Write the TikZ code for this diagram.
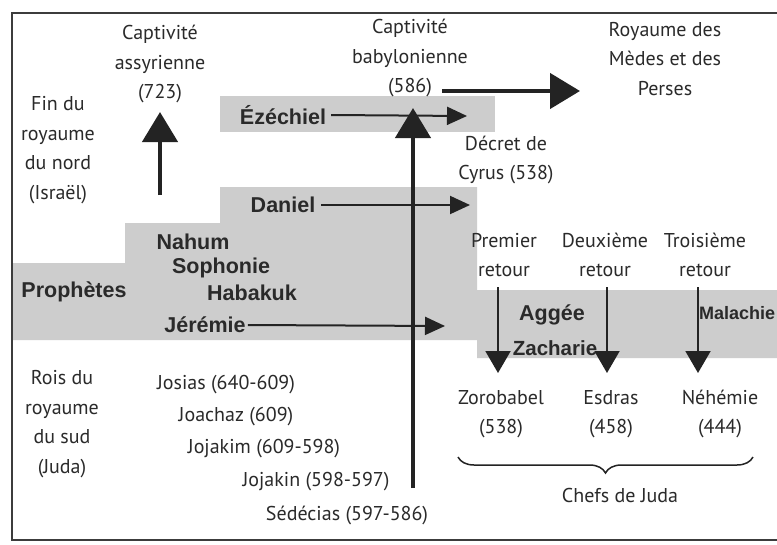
\documentclass[tikz,border=0pt]{standalone}
\usepackage{fontspec}
\setmainfont{PT Sans}
\newfontfamily\heavyfont{Liberation Sans}
\usetikzlibrary{arrows.meta,decorations.pathreplacing}
\definecolor{txt}{RGB}{42,42,42}
\definecolor{arr}{RGB}{35,35,35}
\definecolor{band}{RGB}{205,205,205}
\definecolor{frame}{RGB}{60,60,60}
\tikzset{
  lbl/.style={inner sep=0pt, text=txt, font=\fontsize{20}{29.5}\selectfont, align=center},
  bold/.style={inner sep=0pt, text=txt, font=\heavyfont\bfseries\fontsize{21.5}{26}\selectfont},
  bigarrow/.style={draw=arr, line width=4.5pt, -{Triangle[length=30pt,width=35pt]}},
  thinarrow/.style={draw=arr, line width=2pt, -{Triangle[length=20pt,width=18pt]}},
  downarrow/.style={draw=arr, line width=2pt, -{Triangle[length=22pt,width=25pt]}},
}
\begin{document}
\begin{tikzpicture}[x=1pt,y=-1pt]
\useasboundingbox (0,0) rectangle (777,544);
\clip (0,0) rectangle (777,544);
\fill[white] (0,0) rectangle (777,544);
% gray bands
\fill[band] (12,263) -- (125,263) -- (125,223) -- (220,223) -- (220,187) -- (477,187)
  -- (477,290) -- (780,290) -- (780,358) -- (477,358) -- (477,340) -- (12,340) -- cycle;
\fill[band] (220,96) rectangle (495,132);
% frame
\draw[frame, line width=2pt] (790,13) -- (12,13) -- (12,540) -- (790,540);

% top texts
\node[lbl] (assyr) at (160,64) {Captivité\\assyrienne\\(723)};
\node[lbl] (nord) at (58,150) {Fin du\\royaume\\du nord\\(Israël)};
\node[lbl] (baby) at (410,58) {Captivité\\babylonienne\\(586)};
\node[lbl] (medes) at (665,59) {Royaume des\\Mèdes et des\\Perses};
\node[lbl] (cyrus) at (506,160) {Décret de\\Cyrus (538)};

% prophets
\node[bold] (ezek) at (283,115) {Ézéchiel};
\node[bold] (dan) at (283,205) {Daniel};
\node[bold] (nahum) at (193,242) {Nahum};
\node[bold] (soph) at (221,268) {Sophonie};
\node[bold] (hab) at (252,293) {Habakuk};
\node[bold] (jer) at (205,325) {Jérémie};
\node[bold] (proph) at (74,292) {Prophètes};
\node[bold] (agg) at (552,315) {Aggée};
\node[bold, font=\heavyfont\bfseries\fontsize{20.5}{24}\selectfont] (zach) at (555,348) {Zacharie};
\node[bold, anchor=west, font=\heavyfont\bfseries\fontsize{18}{22}\selectfont] (mal) at (699,313) {Malachie};

% kings
\node[lbl] (rois) at (62,424) {Rois du\\royaume\\du sud\\(Juda)};
\node[lbl] (josias) at (226,385) {Josias (640-609)};
\node[lbl] (joachaz) at (236,417) {Joachaz (609)};
\node[lbl] (jojakim) at (264,449) {Jojakim (609-598)};
\node[lbl] (jojakin) at (316,482) {Jojakin (598-597)};
\node[lbl] (sedec) at (347,515) {Sédécias (597-586)};

% returns
\node[lbl] (ret1) at (504,255) {Premier\\retour};
\node[lbl] (ret2) at (605,255) {Deuxième\\retour};
\node[lbl] (ret3) at (705,255) {Troisième\\retour};
\node[lbl] (zoro) at (501,414) {Zorobabel\\(538)};
\node[lbl] (esdras) at (611,414) {Esdras\\(458)};
\node[lbl] (nehem) at (720,414) {Néhémie\\(444)};
\node[lbl] (chefs) at (620,495) {Chefs de Juda};

% coordinates for arrow ends
\coordinate (a1s) at (160,195);
\coordinate (a1e) at (160,112);
\coordinate (vs) at (413,488);
\coordinate (ve) at (413,108);
\coordinate (hs) at (442,91);
\coordinate (he) at (580,91);
\coordinate (eze) at (467,116);
\coordinate (dane) at (470,205);
\coordinate (jere) at (445,326);
\coordinate (d1s) at (498,287);
\coordinate (d1e) at (498,373);
\coordinate (d2s) at (607,287);
\coordinate (d2e) at (607,373);
\coordinate (d3s) at (698,287);
\coordinate (d3e) at (698,373);
\coordinate (bl) at (458,457);
\coordinate (br) at (753,457);

% arrows
\draw[bigarrow] (a1s) -- (a1e);
\draw[bigarrow] (vs) -- (ve);
\draw[bigarrow] (hs) -- (he);
\draw[thinarrow] ([xshift=5pt]ezek.east) -- (eze);
\draw[thinarrow] ([xshift=6pt]dan.east) -- (dane);
\draw[thinarrow] ([xshift=2pt]jer.east) -- (jere);
\draw[downarrow] (d1s) -- (d1e);
\draw[downarrow] (d2s) -- (d2e);
\draw[downarrow] (d3s) -- (d3e);

% brace
\draw[arr, line width=1.5pt, decorate, decoration={brace, amplitude=16pt, mirror}] (bl) -- (br);
\end{tikzpicture}
\end{document}
